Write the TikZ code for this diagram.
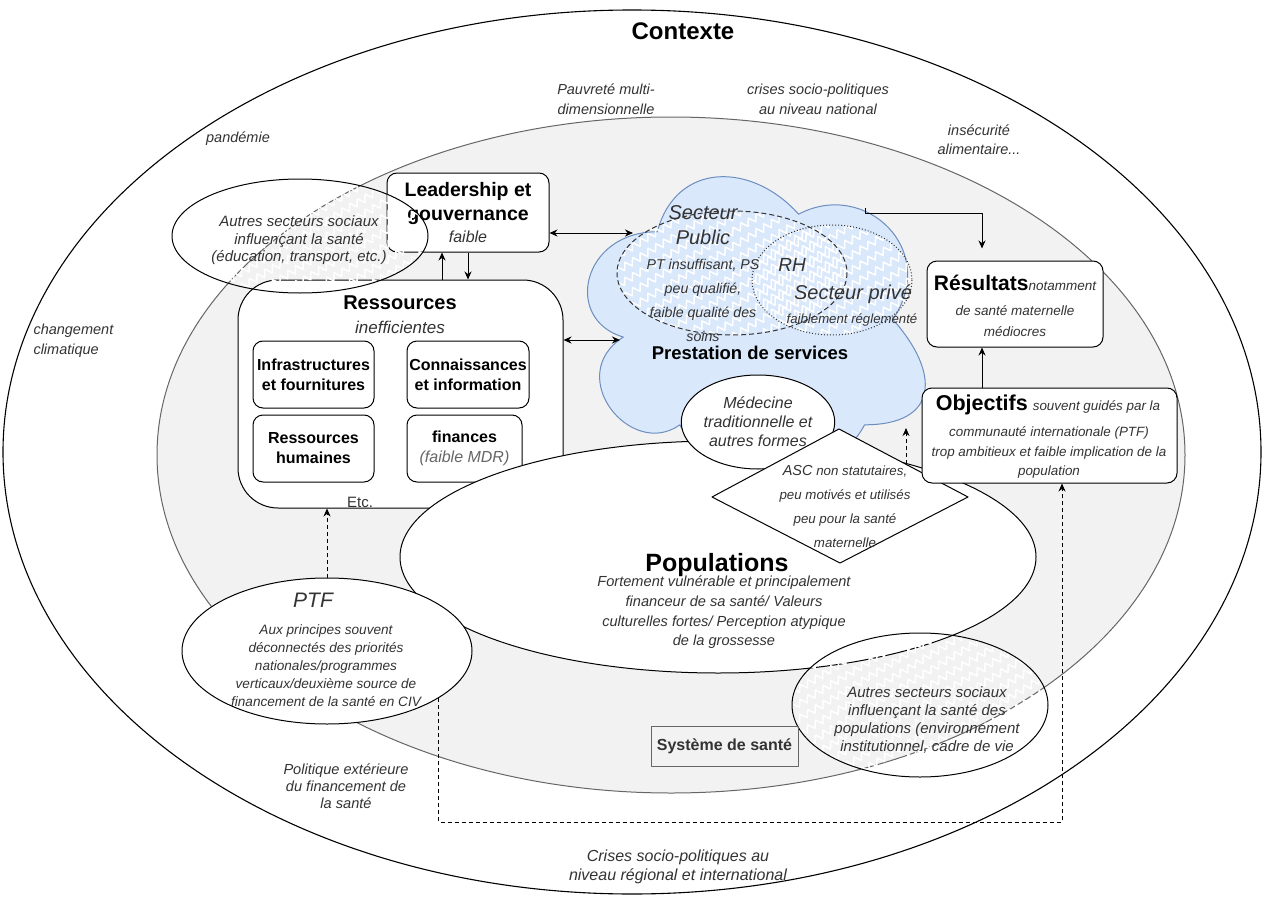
\documentclass[tikz,border=0pt]{standalone}
\usepackage{fontspec}
\setmainfont{Liberation Sans}
\usetikzlibrary{shapes.geometric,arrows.meta,decorations.pathmorphing}
\definecolor{txtgray}{HTML}{333333}
\definecolor{sysfill}{HTML}{F2F2F2}
\definecolor{sysline}{HTML}{666666}
\definecolor{cloudfill}{HTML}{DAE8FC}
\definecolor{cloudline}{HTML}{6C8EBF}
\newcommand{\fsz}[2]{\fontsize{#1}{#2}\selectfont}
\newcommand{\zzfill}[4]{%
  \pgfmathtruncatemacro{\zzn}{(#4-#2+0.6*(#3-#1))/15+1}%
  \foreach \zk in {0,...,\zzn}{%
    \pgfmathsetmacro{\zya}{#2+\zk*15}%
    \pgfmathsetmacro{\zyb}{\zya-0.6*(#3-#1)}%
    \draw[zz] (#1,\zya) -- (#3,\zyb);
  }}
\begin{document}
\begin{tikzpicture}[x=1pt,y=-1pt,line join=round,line width=1pt,
  >={Stealth[length=8pt,width=7pt]},
  zz/.style={white,line width=1.5pt,decorate,decoration={zigzag,segment length=9pt,amplitude=3.5pt}},
  box/.style={draw,fill=white,rounded corners=10pt,inner sep=0pt},
  ell/.style={draw,ellipse,fill=white,inner sep=0pt},
  itx/.style 2 args={font=\itshape\fsz{#1}{#2},text=txtgray,align=center,inner sep=0pt},
  bfx/.style 2 args={font=\bfseries\fsz{#1}{#2},align=center,inner sep=0pt},
  dsh/.style={dash pattern=on 4pt off 3pt}]
% background and bounding box
\fill[white] (0,0) rectangle (1267,899);
\useasboundingbox (0,0) rectangle (1267,899);
% Context ellipse
\draw[line width=1.1pt,fill=white] (632,452) ellipse [x radius=629, y radius=442];
\node[bfx={24}{28}] (ctx) at (683,31) {Contexte};
\node[itx={14.5}{20}] (pauv) at (606,99) {Pauvreté multi-\\dimensionnelle};
\node[itx={14.5}{20}] (crisn) at (818,99) {crises socio-politiques\\au niveau national};
\node[itx={14.5}{19}] (insec) at (979,140) {insécurité\\alimentaire...};
\node[itx={14.5}{20}] (pand) at (238,139) {pandémie};
\node[itx={14.5}{20},align=left,anchor=west] (clim) at (33,341) {changement\\climatique};
\node[itx={14.6}{17}] (polx) at (346,786) {Politique extérieure\\du financement de\\la santé};
\node[itx={16}{19}] (crisr) at (678,867) {Crises socio-politiques au\\niveau régional et international};
% Health system ellipse
\draw[sysline,fill=sysfill] (671,455) ellipse [x radius=514, y radius=338];
% Ressources
\node[box,rounded corners=40pt,minimum width=325pt,minimum height=228pt] (ress) at (400.5,394) {};
\node[bfx={20}{24}] (resst) at (400,303) {Ressources};
\node[itx={17}{20}] (ressi) at (400,327) {inefficientes};
\node[box,minimum width=121pt,minimum height=67pt,font=\bfseries\fsz{16}{20},align=center] (inf) at (313.5,374.5) {Infrastructures\\et fournitures};
\node[box,minimum width=122pt,minimum height=67pt,font=\bfseries\fsz{16}{20},align=center] (con) at (468,374.5) {Connaissances\\et information};
\node[box,minimum width=121pt,minimum height=67pt,font=\bfseries\fsz{16}{20},align=center] (rhu) at (313.5,448.5) {Ressources\\humaines};
\node[box,minimum width=115pt,minimum height=67pt,font=\bfseries\fsz{16}{20},align=center] (fin) at (464.5,448.5) {finances\\{\mdseries\itshape\color{sysline}(faible MDR)}};
\node[font=\fsz{15}{18},text=txtgray,inner sep=0pt] (etc) at (360,502) {Etc.};
% Leadership
\node[box,minimum width=162pt,minimum height=79pt] (lead) at (468,212.5) {};
\node[bfx={19.5}{24}] (leadt) at (468,203) {Leadership et\\gouvernance};
\node[itx={16}{20}] (leadf) at (468,237) {faible};
\coordinate (xu) at (442,0);
\draw[->] (xu |- ress.north) -- (xu |- lead.south);
\draw[->] (lead.south) -- (lead.south |- ress.north);
% Other sectors (top left)
\begin{scope}
  \clip (300,236) ellipse [x radius=128, y radius=57];
  \zzfill{172}{179}{428}{293}
\end{scope}
\draw (300,236) ellipse [x radius=128, y radius=57];
\node[itx={15}{17.5}] (aut1t) at (299,240.5) {Autres secteurs sociaux\\influençant la santé\\(éducation, transport, etc.)};
% Cloud: service delivery
\draw[cloudline,fill=cloudfill] (657.25,231.75)
  .. controls (581.85,231.75) and (563,319.5) .. (623.32,337.05)
  .. controls (563,375.66) and (630.86,459.9) .. (679.87,424.8)
  .. controls (713.8,495) and (826.9,495) .. (864.6,424.8)
  .. controls (940,424.8) and (940,372.15) .. (892.875,319.5)
  .. controls (940,249.3) and (864.6,179.1) .. (798.625,214.2)
  .. controls (751.5,161.55) and (676.1,161.55) .. (657.25,231.75) -- cycle;
\begin{scope}
  \clip (732,273) ellipse [x radius=115, y radius=62];
  \zzfill{617}{211}{847}{335}
\end{scope}
\begin{scope}
  \clip (832,280) ellipse [x radius=80, y radius=55];
  \zzfill{752}{225}{912}{335}
\end{scope}
\draw[txtgray,dash pattern=on 5pt off 3pt] (732,273) ellipse [x radius=115, y radius=62];
\draw[txtgray,dash pattern=on 1pt off 2pt] (832,280) ellipse [x radius=80, y radius=55];
\node[itx={20}{25}] (spub) at (703,225.5) {Secteur\\Public};
\node[itx={14.2}{24}] (spubd) at (703,300) {PT insuffisant, PS\\peu qualifié,\\faible qualité des\\soins};
\node[itx={19}{22}] (rh) at (792,265) {RH};
\node[itx={20}{22}] (spriv) at (853,294) {Secteur privé};
\node[itx={13.2}{16}] (sprivd) at (852,320) {faiblement réglementé};
\node[bfx={18.5}{22}] (prest) at (750,353) {Prestation de services};
\coordinate (cl1) at (633,233);
\coordinate (cl2) at (620,340);
\draw[<->] ([yshift=-20.5pt]lead.east) -- (cl1);
\draw[<->] ([yshift=54pt]ress.east) -- (cl2);
% Populations
\node[ell,minimum width=636pt,minimum height=232pt] (pop) at (718,557) {};
\node[bfx={25}{28}] (popt) at (717,565) {Populations};
\node[itx={14.6}{19.7}] (popd) at (724,612.5) {Fortement vulnérable et principalement\\financeur de sa santé/ Valeurs\\culturelles fortes/ Perception atypique\\de la grossesse};
% PTF
\node[ell,minimum width=290pt,minimum height=146pt] (ptf) at (327,651) {};
\node[itx={21}{24}] (ptft) at (313,600) {PTF};
\node[itx={13.6}{18}] (ptfd) at (326,666) {Aux principes souvent\\déconnectés des priorités\\nationales/programmes\\verticaux/deuxième source de\\financement de la santé en CIV};
% Traditional medicine
\node[ell,itx={16}{19},minimum width=150pt,minimum height=94pt] (med) at (758,422) {Médecine\\traditionnelle et\\autres formes};
% Diamond ASC
\coordinate (dl) at (712,497);
\coordinate (dtp) at (839,429);
\coordinate (dr) at (968,497);
\coordinate (db) at (840,563);
\draw[fill=white] (dl) -- (dtp) -- (dr) -- (db) -- cycle;
\node[itx={13.3}{24}] (asc) at (845,506) {{\fsz{14.5}{24}ASC} non statutaires,\\peu motivés et utilisés\\peu pour la santé\\maternelle};
% Other sectors (bottom right)
\begin{scope}
  \clip (920,705) ellipse [x radius=128, y radius=72];
  \zzfill{792}{633}{1048}{777}
\end{scope}
\draw (920,705) ellipse [x radius=128, y radius=72];
\node[itx={15}{18}] (aut2t) at (927,720) {Autres secteurs sociaux\\influençant la santé des\\populations (environnement\\institutionnel, cadre de vie};
% Systeme de sante label
\node[draw=sysline,minimum width=147pt,minimum height=40pt,inner sep=0pt,font=\bfseries\fsz{16}{20},text=txtgray] (sys) at (724.5,746) {Système de santé};
% Results and objectives
\node[box,minimum width=176pt,minimum height=86pt] (res) at (1015,304) {};
\node[inner sep=0pt] (rest1) at (1015,283) {{\bfseries\fsz{21}{24}Résultats}{\itshape\fsz{13.5}{16}\color{txtgray}notamment}};
\node[itx={13.5}{21}] (rest2) at (1015,321.5) {de santé maternelle\\médiocres};
\node[box,minimum width=255pt,minimum height=95pt] (obj) at (1049.5,435.5) {};
\node[inner sep=0pt] (objt1) at (1048,405) {{\bfseries\fsz{21.5}{24}Objectifs}\hspace{5pt}{\itshape\fsz{13.4}{16}\color{txtgray}souvent guidés par la}};
\node[itx={13.4}{19.5}] (objt2) at (1049,452.5) {communauté internationale (PTF)\\trop ambitieux et faible implication de la\\population};
\coordinate (ax) at (982,0);
\coordinate (rtop) at ([yshift=12pt]res.north);
\coordinate (cl3) at (865,208);
\draw[->] (cl3) -- ++(0,5) -| (ax |- rtop);
\draw[->] (ax |- obj.north) -- (ax |- res.south);
% Dashed influences
\coordinate (dm) at (906,464);
\coordinate (dmt) at (906,428);
\draw[dsh,->] (dm) -- (dmt);
\draw[dsh,->] (ptf.north) -- (ptf.north |- ress.south);
\coordinate (bt) at (1062,822);
\draw[dsh,->] (ptf.-23) |- (bt) -- ([xshift=12.5pt]obj.south);
\end{tikzpicture}
\end{document}
